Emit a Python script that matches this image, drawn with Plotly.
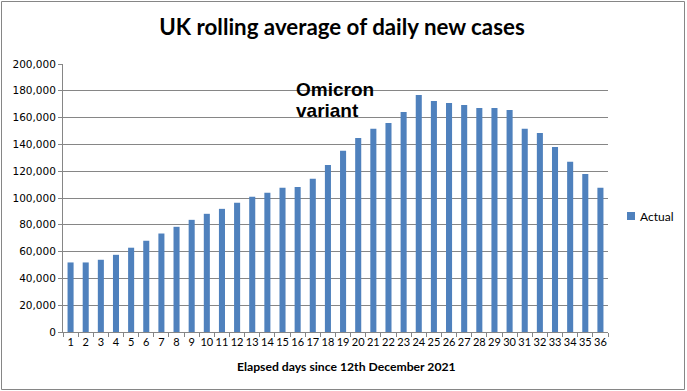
import plotly.graph_objects as go

days = [str(i) for i in range(1, 37)]
actual = [51900, 51900, 53900, 57600, 62900, 68100, 73500, 78500, 83700, 88200,
          91900, 96400, 100900, 103900, 107600, 108300, 114300, 124700, 135200, 144800,
          151600, 156000, 164200, 176900, 172400, 170900, 169400, 167200, 167200, 165700,
          151600, 148600, 138100, 127000, 118000, 107600]
y_ticks = list(range(0, 200001, 20000))
series_name = "Actual"
bar_color = "#4F81BD"

W, H = 687, 391
L, R, T, B = 63, 79, 64, 59
pw, ph = W - L - R, H - T - B

def px(x):
    return (x - L) / pw

def py(y):
    return (H - B - y) / ph

fig = go.Figure()
fig.add_trace(go.Bar(x=days, y=actual, name=series_name,
                     marker=dict(color=bar_color, line=dict(width=0)), showlegend=False))

fig.update_layout(
    width=W, height=H,
    margin=dict(l=L, r=R, t=T, b=B, pad=0),
    paper_bgcolor="white", plot_bgcolor="white",
    bargap=0.6,
    showlegend=False,
    title=dict(text="<b>UK rolling average of daily new cases</b>", x=342 / W, xanchor="center",
               y=1 - 27 / H, yanchor="middle",
               font=dict(family="Lato", size=22.3, color="black")),
    xaxis=dict(type="category", tickson="boundaries", ticks="outside", ticklen=4, tickcolor="#868686",
               showline=True, linecolor="#868686", linewidth=1, showgrid=False,
               tickfont=dict(family="Lato", size=11, color="black"), tickangle=0,
               title=None),
    yaxis=dict(range=[0, 200000], tickvals=y_ticks, tickformat=",d", ticks="outside", ticklen=4,
               tickcolor="#868686", showline=True, linecolor="#868686", linewidth=1,
               showgrid=True, gridcolor="#868686", gridwidth=1, zeroline=False,
               tickfont=dict(family="DejaVu Sans", size=10.5, color="black")),
)

fig.add_annotation(text="<b>Elapsed days since 12th December 2021</b>", xref="paper", yref="paper",
                   x=px(346), y=py(366), xanchor="center", yanchor="middle", showarrow=False,
                   font=dict(family="Lato", size=12.2, color="black"))
fig.add_annotation(text="<b>Omicron</b>", xref="paper", yref="paper",
                   x=px(294), y=py(90), xanchor="left", yanchor="middle", showarrow=False,
                   font=dict(family="Liberation Sans", size=19, color="black"))
fig.add_annotation(text="<b>variant</b>", xref="paper", yref="paper",
                   x=px(294), y=py(110), xanchor="left", yanchor="middle", showarrow=False,
                   font=dict(family="Liberation Sans", size=19, color="black"))

# legend
fig.add_shape(type="rect", xref="paper", yref="paper",
              x0=px(627), x1=px(635), y0=py(220), y1=py(212),
              line=dict(width=0), fillcolor=bar_color)
fig.add_annotation(text=series_name, xref="paper", yref="paper",
                   x=px(638), y=py(216), xanchor="left", yanchor="middle", showarrow=False,
                   font=dict(family="Lato", size=12, color="black"))

fig.add_shape(type="rect", xref="paper", yref="paper",
              x0=px(1.5), x1=px(684.5), y0=py(389.5), y1=py(1.5),
              line=dict(color="#868686", width=1), fillcolor="rgba(0,0,0,0)", layer="below")

fig.write_html("out.html", config={"displayModeBar": False},
               post_script="document.body.style.margin='0';document.body.style.overflow='hidden';")
